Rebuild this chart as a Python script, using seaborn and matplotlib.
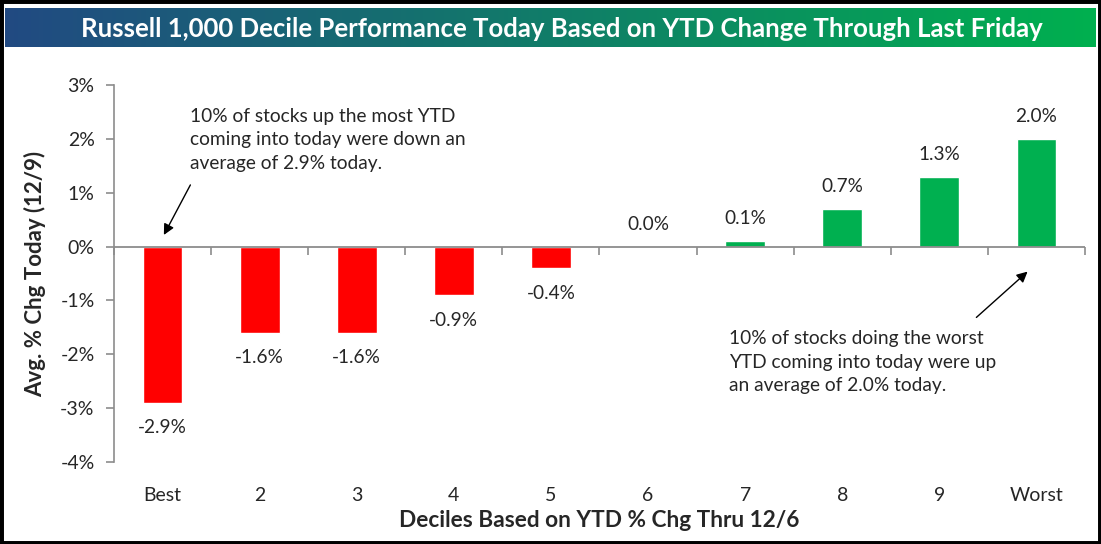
import numpy as np
import matplotlib
matplotlib.use("Agg")
import matplotlib.pyplot as plt
import seaborn as sns
from matplotlib.patches import Rectangle

categories = ["Best", "2", "3", "4", "5", "6", "7", "8", "9", "Worst"]
values = [-2.9, -1.6, -1.6, -0.9, -0.4, 0.0, 0.1, 0.7, 1.3, 2.0]
value_labels = ["-2.9%", "-1.6%", "-1.6%", "-0.9%", "-0.4%", "0.0%", "0.1%", "0.7%", "1.3%", "2.0%"]
yticks = [-4, -3, -2, -1, 0, 1, 2, 3]
ytick_labels = ["-4%", "-3%", "-2%", "-1%", "0%", "1%", "2%", "3%"]

title = "Russell 1,000 Decile Performance Today Based on YTD Change Through Last Friday"
ylabel = "Avg. % Chg Today (12/9)"
xlabel = "Deciles Based on YTD % Chg Thru 12/6"
note_best = "10% of stocks up the most YTD\ncoming into today were down an\naverage of 2.9% today."
note_worst = "10% of stocks doing the worst\nYTD coming into today were up\nan average of 2.0% today."

RED = "#FF0000"
GREEN = "#00B050"
TXT = "#262626"
AXC = "#8C8C8C"

sns.set_style("white")
plt.rcParams["font.family"] = ["Lato", "DejaVu Sans"]

W, H = 1101, 544
fig = plt.figure(figsize=(W / 100, H / 100), dpi=100)
fig.patch.set_facecolor("white")

# Title bar with gradient
tax = fig.add_axes([5 / W, 1 - 47 / H, 1091 / W, 39 / H])
c1 = np.array([0.13, 0.29, 0.51])
c2 = np.array([0.0, 0.69, 0.31])
t = np.linspace(0, 1, 256)
grad = (c1[None, :] * (1 - t[:, None]) + c2[None, :] * t[:, None])[None, :, :]
tax.imshow(grad, aspect="auto", extent=[0, 1, 0, 1])
tax.set_xlim(0, 1)
tax.set_ylim(0, 1)
tax.axis("off")
tax.text(0.51, 0.47, title, color="white", fontsize=18.5, fontweight="bold",
         ha="center", va="center", transform=tax.transAxes)

# Main axes
left, right, top, bottom = 114, 1085, 85, 462
ax = fig.add_axes([left / W, 1 - bottom / H, (right - left) / W, (bottom - top) / H])

colors = [RED if v < 0 else GREEN for v in values]
sns.barplot(x=categories, y=values, hue=categories, palette=colors, width=0.41,
            legend=False, ax=ax, saturation=1)

ax.set_xlim(-0.5, len(categories) - 0.5)
ax.set_ylim(-4, 3)
ax.set_yticks(yticks)
ax.set_yticklabels(ytick_labels)
ax.tick_params(axis="y", direction="out", length=6, width=1.2, color=AXC,
               labelsize=14, labelcolor=TXT, pad=8, left=True)
ax.tick_params(axis="x", which="major", length=0, labelsize=14, labelcolor=TXT,
               pad=18, bottom=False)

for s in ["top", "right", "bottom"]:
    ax.spines[s].set_visible(False)
ax.spines["left"].set_color(AXC)
ax.spines["left"].set_linewidth(1.2)

# zero line (category axis crossing) with boundary tick marks
ax.axhline(0, color=AXC, lw=1.3, zorder=5)
zero_axis = ax.secondary_xaxis(4 / 7)
zero_axis.set_xticks(np.arange(len(categories) + 1) - 0.5)
zero_axis.set_xticklabels([])
zero_axis.xaxis.set_ticks_position("bottom")
zero_axis.tick_params(axis="x", direction="out", length=6, width=1.2, color=AXC,
                      bottom=True, top=False)
for s in zero_axis.spines.values():
    s.set_visible(False)

ax.set_xlabel(xlabel, fontsize=16.3, fontweight="bold", color=TXT, labelpad=4)
ax.set_ylabel(ylabel, fontsize=16, fontweight="bold", color=TXT, labelpad=10)

for i, (v, lab) in enumerate(zip(values, value_labels)):
    if v < 0:
        ax.annotate(lab, (i, v), xytext=(0, -18), textcoords="offset points",
                    ha="center", va="center", fontsize=13.7, color=TXT)
    else:
        ax.annotate(lab, (i, v), xytext=(0, 16), textcoords="offset points",
                    ha="center", va="center", fontsize=13.7, color=TXT)

ax.annotate("", xy=(0.0, 0.17), xytext=(0.30, 1.19),
            arrowprops=dict(arrowstyle="-|>", color="black", lw=1, mutation_scale=16))
ax.text(0.28, 1.98, note_best, ha="left", va="center", fontsize=13.8,
        color=TXT, linespacing=1.46)

ax.annotate("", xy=(8.93, -0.43), xytext=(8.36, -1.35),
            arrowprops=dict(arrowstyle="-|>", color="black", lw=1, mutation_scale=16))
ax.text(5.83, -2.15, note_worst, ha="left", va="center", fontsize=13.8,
        color=TXT, linespacing=1.46)

# outer black border
fig.add_artist(Rectangle((0, 0), 1, 1, transform=fig.transFigure, fill=False,
                         edgecolor="black", linewidth=5, zorder=10))

fig.savefig("out.png", dpi=100)
